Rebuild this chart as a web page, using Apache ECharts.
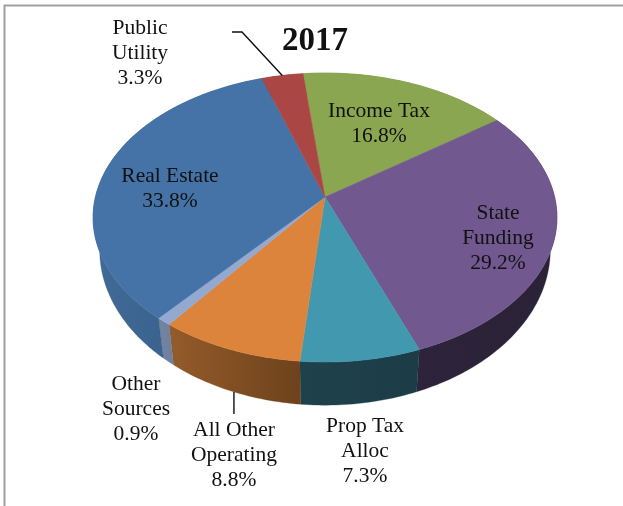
<!DOCTYPE html>
<html>
<head>
<meta charset="utf-8">
<style>html,body{margin:0;padding:0;background:#fff}#chart{width:623px;height:506px}</style>
<script src="https://cdn.jsdelivr.net/npm/echarts@6/dist/echarts.min.js"></script>
</head>
<body>
<div id="chart"></div>
<script>
// Revenue sources for 2017, clockwise from the Income Tax wedge.
const chartTitle = '2017';
const categories = ['Income Tax', 'State\nFunding', 'Prop Tax\nAlloc', 'All Other\nOperating', 'Other\nSources', 'Real Estate', 'Public\nUtility'];
const shares = [16.8, 29.2, 7.3, 8.8, 0.9, 33.8, 3.3];

// Wedge styling, in the same order as the categories.
const topColors = ['#8aa650', '#71588f', '#4198af', '#dd843c', '#93a9cf', '#4573a7', '#aa4643'];
const wallColors = [
  ['#6b8240', '#6b8240'], ['#2d233a', '#2b2237'], ['#1e424d', '#1c3c47'], ['#955b2a', '#6d421c'],
  ['#7484a3', '#6e7e9e'], ['#426a98', '#31587f'], ['#7d3330', '#7d3330']
];
const labelCentres = [[379, 124], [498, 238.5], [365, 451], [234, 455], [136, 409], [170, 189], [140, 53]];

// Perspective model of the disc: a tilted circle projected about its centre.
const startDeg = -6.3;
const centreX = 325;
const tilt = 0.142;
const topFace = { apexY: 197, rx: 229.6, ry: 141.6 };
const baseFace = { apexY: 228, rx: 223, ry: 152 };

function project(face, deg) {
  const a = deg * Math.PI / 180;
  const u = Math.sin(a), v = Math.cos(a);
  const w = 1 + tilt * v;
  return [centreX + face.rx * u / w, face.apexY - face.ry * v / w];
}

function arc(face, from, to) {
  const steps = Math.max(2, Math.ceil(Math.abs(to - from)));
  const pts = [];
  for (let i = 0; i <= steps; i++) pts.push(project(face, from + (to - from) * i / steps));
  return pts;
}

const total = shares.reduce((s, v) => s + v, 0);
const spans = [];
shares.reduce((acc, v) => {
  const next = acc + v / total * 360;
  spans.push([acc, next]);
  return next;
}, startDeg);

function angleWithin(name, t) {
  const i = categories.findIndex(c => c.startsWith(name));
  return spans[i][0] + (spans[i][1] - spans[i][0]) * t;
}

function wallItem(params) {
  const [from, to] = spans[params.dataIndex];
  const topEdge = arc(topFace, from, to);
  const baseEdge = arc(baseFace, from, to).reverse();
  const pts = topEdge.concat(baseEdge);
  const xs = pts.map(p => p[0]);
  const colors = wallColors[params.dataIndex];
  return {
    type: 'polygon',
    shape: { points: pts },
    style: {
      fill: {
        type: 'linear', global: true,
        x: Math.min(...xs), y: 0, x2: Math.max(...xs), y2: 0,
        colorStops: [{ offset: 0, color: colors[0] }, { offset: 1, color: colors[1] }]
      },
      stroke: colors[1],
      lineWidth: 0.3
    }
  };
}

function topItem(params) {
  const [from, to] = spans[params.dataIndex];
  const color = topColors[params.dataIndex];
  return {
    type: 'polygon',
    shape: { points: [[centreX, topFace.apexY]].concat(arc(topFace, from, to)) },
    style: { fill: color, stroke: color, lineWidth: 0.5 }
  };
}

function labelItem(params, api) {
  const i = params.dataIndex;
  return {
    type: 'text',
    style: {
      text: categories[i] + '\n' + api.value(0).toFixed(1) + '%',
      x: labelCentres[i][0],
      y: labelCentres[i][1],
      align: 'center',
      verticalAlign: 'middle',
      fontFamily: '"Liberation Serif", serif',
      fontSize: 21.5,
      lineHeight: 25,
      fill: '#111'
    }
  };
}

// Leader lines start at the rim of their wedge and run towards the label.
const utilityEnd = project(topFace, angleWithin('Public', 0.5));
const operatingStart = project(baseFace, angleWithin('All Other', 0.485));
const leaders = [
  [[232, 32], [242, 32], utilityEnd],
  [[operatingStart[0], operatingStart[1]], [operatingStart[0], 414]]
];

const seriesData = shares.map(v => [v]);
const chart = echarts.init(document.getElementById('chart'), null, { renderer: 'canvas' });
chart.setOption({
  animation: false,
  backgroundColor: '#fff',
  title: {
    text: chartTitle,
    left: 310,
    top: 20,
    textAlign: 'center',
    textStyle: { fontFamily: '"Liberation Serif", serif', fontWeight: 'bold', fontSize: 33, color: '#111' }
  },
  graphic: {
    elements: [
      { type: 'polyline', silent: true, z: 0, shape: { points: [[4.5, 506], [4.5, 5.5], [623, 5.5]] }, style: { fill: null, stroke: '#a0a0a0', lineWidth: 2 } }
    ].concat(leaders.map(points => ({
      type: 'polyline', silent: true, z: 20, shape: { points }, style: { fill: null, stroke: '#111', lineWidth: 1.4 }
    })))
  },
  series: [
    { type: 'custom', coordinateSystem: 'none', z: 2, silent: true, renderItem: wallItem, data: seriesData },
    { type: 'custom', coordinateSystem: 'none', z: 3, silent: true, renderItem: topItem, data: seriesData },
    { type: 'custom', coordinateSystem: 'none', z: 4, silent: true, renderItem: labelItem, data: seriesData }
  ]
});
</script>
</body>
</html>
